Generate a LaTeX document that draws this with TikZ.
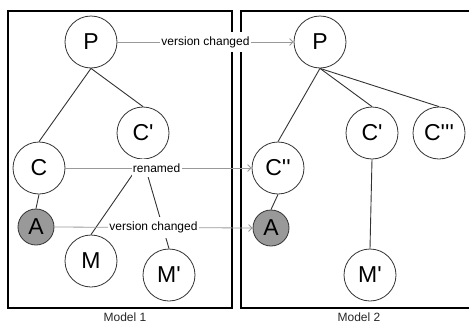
\documentclass[tikz,border=0pt]{standalone}
\usepackage{fontspec}
\newfontfamily\lsans{Liberation Sans}
\usetikzlibrary{arrows.meta}
\definecolor{edgegray}{HTML}{333333}
\definecolor{linkgray}{HTML}{999999}
\definecolor{fillgray}{HTML}{999999}
\tikzset{
  elem/.style={circle, draw=edgegray, line width=0.8pt, fill=white, inner sep=0pt,
               minimum size=52pt, font=\lsans\fontsize{23}{23}\selectfont, text=black},
  smallelem/.style={elem, minimum size=36pt, fill=fillgray},
  tree/.style={draw=edgegray, line width=0.9pt},
  link/.style={draw=linkgray, line width=0.8pt, -{Straight Barb[length=3.5pt,width=7pt]}},
  lbl/.style={fill=white, inner xsep=1.2pt, inner ysep=4.5pt,
              font=\lsans\fontsize{12}{12}\selectfont, text=black},
  frame/.style={draw=black, line width=2pt},
  caption/.style={font=\lsans\fontsize{12}{12}\selectfont, text=black!85}
}
\begin{document}
\begin{tikzpicture}[x=1pt, y=-1pt]
  \useasboundingbox (0,0) rectangle (469,327);

  % model frames
  \draw[frame] (8,11) rectangle (232,308);
  \draw[frame] (472,11) -- (241,11) -- (241,308) -- (472,308);
  \node[caption] (cap1) at (125,317) {Model 1};
  \node[caption] (cap2) at (359,317) {Model 2};

  % Model 1
  \node[elem] (P1)  at (91,42)   {P};
  \node[elem] (C1)  at (39,168)  {C};
  \node[elem] (Cp1) at (143,133) {C'};
  \node[smallelem] (A1) at (36,227) {A};
  \node[elem] (M1)  at (91,261)  {M};
  \node[elem] (Mp1) at (169,275) {M'};

  % Model 2
  \node[elem] (P2)   at (320,42)  {P};
  \node[elem] (Cpp2) at (278,168) {C''};
  \node[elem] (Cp2)  at (372,133) {C'};
  \node[elem] (Cppp2) at (439,133) {C'''};
  \node[smallelem] (A2) at (271,228) {A};
  \node[elem] (Mp2)  at (370,275) {M'};

  % containment edges
  \draw[tree] (P1.south) -- (C1.north);
  \draw[tree] (P1.south) -- (Cp1.north);
  \draw[tree] (C1.south) -- (A1.north);
  \draw[tree] (Cp1.south) -- (M1.north);
  \draw[tree] (Cp1.south) -- (Mp1.north);

  \draw[tree] (P2.south) -- (Cpp2.north);
  \draw[tree] (P2.south) -- (Cp2.north);
  \draw[tree] (P2.south) -- (Cppp2.north);
  \draw[tree] (Cpp2.south) -- (A2.north);
  \draw[tree] (Cp2.south) -- (Mp2.north);

  % correspondences between the models
  \draw[link] (P1.east) -- node[lbl] (l1) {version changed} (P2.west);
  \draw[link] (C1.east) -- node[lbl, pos=0.49] (l2) {renamed} (Cpp2.west);
  \draw[link] (A1.east) -- node[lbl] (l3) {version changed} (A2.west);
\end{tikzpicture}
\end{document}
